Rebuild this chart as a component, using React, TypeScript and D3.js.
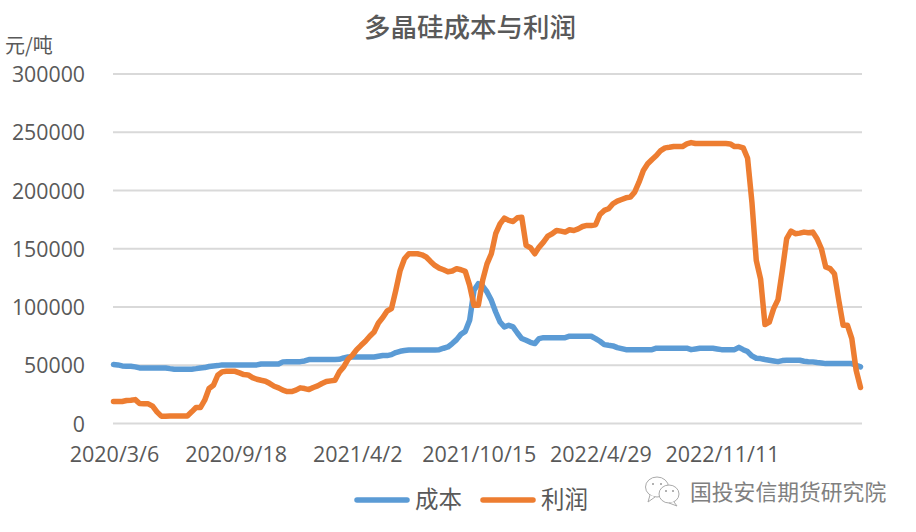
import React from "react";
import * as d3 from "d3";

const tickLabels = ["2020/3/6", "2020/9/18", "2021/4/2", "2021/10/15", "2022/4/29", "2022/11/11"];
const tickWeeks = [0, 28, 56, 84, 112, 140];
const yTicks = [0, 50000, 100000, 150000, 200000, 250000, 300000];
const seriesNames = ["成本", "利润"];

const cost = [
  50600, 50300, 49400, 49100, 49100, 48600, 47700, 47700, 47700, 47700, 47700, 47700, 47700, 47100, 46600, 46600, 46600, 46600, 46600, 47100,
  47700, 48000, 48900, 49400, 49700, 50300, 50300, 50300, 50300, 50300, 50300, 50300, 50300, 50300, 51100, 51100, 51100, 51100, 51100, 52900,
  53100, 53100, 53100, 53100, 53700, 54900, 54900, 54900, 54900, 54900, 54900, 54900, 55100, 56300, 57100, 57100, 57100, 57100, 57100, 57100,
  57100, 57700, 58300, 58300, 59100, 60900, 62000, 62600, 63100, 63100, 63100, 63100, 63100, 63100, 63100, 63400, 64600, 65700, 68600, 72000,
  76600, 79100, 88600, 114300, 120000, 118000, 112900, 105700, 95700, 87100, 82900, 84300, 82900, 77700, 72900, 71400, 69700, 68600, 72900, 73700,
  73700, 73700, 73700, 73700, 73700, 74900, 74900, 74900, 74900, 74900, 74900, 72900, 70600, 67700, 67100, 66600, 65100, 64300, 63400, 63400,
  63400, 63400, 63400, 63400, 63400, 64600, 64600, 64600, 64600, 64600, 64600, 64600, 64600, 63400, 64000, 64600, 64600, 64600, 64600, 64000,
  63400, 63400, 63400, 63400, 65400, 63400, 61700, 58000, 56000, 55700, 54900, 54300, 53700, 53100, 54000, 54300, 54300, 54300, 54300, 53400,
  53100, 52900, 52300, 52000, 51400, 51400, 51400, 51400, 51400, 51400, 51400, 50000, 48600,
];

const profit = [
  18900, 18900, 18900, 19700, 20000, 20500, 17100, 16900, 16900, 14900, 10000, 6300, 6300, 6500, 6500, 6500, 6500, 6500, 10000, 13700,
  13700, 20000, 30000, 32800, 41400, 44300, 44800, 44800, 44800, 43400, 42000, 41700, 39400, 38000, 37100, 36300, 34300, 32000, 30600, 28600,
  27400, 27400, 28600, 30600, 30000, 29100, 30900, 32300, 34300, 36000, 36600, 37100, 44300, 48600, 55100, 58600, 63400, 67100, 70600, 74900,
  78600, 86300, 90900, 96600, 98600, 114300, 131400, 141400, 145700, 145700, 145700, 144800, 142900, 139100, 135700, 133400, 132000, 130300, 130900, 132900,
  132000, 130600, 118600, 101400, 101400, 122900, 137000, 145700, 162900, 171400, 176300, 174300, 173400, 176600, 177100, 152900, 150900, 145700, 151400, 155700,
  160900, 162900, 165700, 165100, 164300, 166300, 165700, 167100, 169100, 170000, 170000, 170600, 179400, 182900, 184300, 188600, 190900, 192300, 193700, 194300,
  198600, 207100, 217100, 222900, 226600, 230000, 234300, 236600, 237100, 237700, 237700, 237700, 240000, 241100, 240300, 240300, 240300, 240300, 240300, 240300,
  240300, 240300, 240000, 237700, 237700, 236600, 227700, 190000, 140000, 124000, 84900, 87100, 98600, 106300, 131400, 158600, 165100, 162900, 163400, 164300,
  163700, 164300, 158600, 150000, 134300, 132900, 128600, 105700, 84300, 84300, 72900, 45700, 30900,
];

const W = 916;
const H = 532;
const x = d3.scaleLinear().domain([0, cost.length - 1]).range([113.5, 860.5]);
const y = d3.scaleLinear().domain([0, 300000]).range([423.5, 74]);
const line = d3.line<number>().x((_, i) => x(i)).y((d) => y(d)).curve(d3.curveLinear);

const textColor = "#595959";
const latin = "'Open Sans', 'Noto Sans CJK SC', sans-serif";
const cjk = "'Noto Sans CJK SC', sans-serif";
const colors = ["#5b9bd5", "#ed7d31"];

export default function App() {
  return (
    <svg width={W} height={H} viewBox={`0 0 ${W} ${H}`} style={{ position: "absolute", left: 0, top: 0, background: "#fff" }}>
      <text x={470} y={37} textAnchor="middle" fontFamily={cjk} fontSize={26.5} fontWeight={500} fill={textColor}>多晶硅成本与利润</text>
      <text x={5} y={53} fontFamily={cjk} fontSize={20} fill={textColor}>元/吨</text>
      {yTicks.map((t) => (
        <g key={t}>
          <line x1={113} x2={862} y1={y(t)} y2={y(t)} stroke="#d9d9d9" strokeWidth={2} />
          <text x={85} y={y(t) + 8} textAnchor="end" fontFamily={latin} fontSize={21.3} fill={textColor}>{t}</text>
        </g>
      ))}
      {tickWeeks.map((w, i) => (
        <text key={w} x={x(w) + 1} y={462} textAnchor="middle" fontFamily={latin} fontSize={21.5} fill={textColor}>{tickLabels[i]}</text>
      ))}
      {[cost, profit].map((s, i) => (
        <path key={i} d={line(s) ?? ""} fill="none" stroke={colors[i]} strokeWidth={5.5} strokeLinecap="round" strokeLinejoin="round" />
      ))}
      {seriesNames.map((n, i) => {
        const lx = 357 + i * 126;
        return (
          <g key={n}>
            <line x1={lx} x2={lx + 50} y1={500} y2={500} stroke={colors[i]} strokeWidth={5.5} strokeLinecap="round" />
            <text x={lx + 58} y={508} fontFamily={cjk} fontSize={23.5} fill={textColor}>{n}</text>
          </g>
        );
      })}
      <g fill="#fff" stroke="#aaa" strokeWidth={1}>
        <ellipse cx={657} cy={487} rx={11.5} ry={10} />
        <path d="M650 495 L648 502 L655 497" />
        <ellipse cx={669} cy={494} rx={10} ry={9} />
        <path d="M674 502 L677 506 L669 503" />
      </g>
      <g fill="#999">
        <circle cx={653} cy={484} r={1} /><circle cx={661} cy={484} r={1} />
        <circle cx={666} cy={491} r={1} /><circle cx={673} cy={491} r={1} />
      </g>
      <text x={690} y={500} fontFamily={cjk} fontSize={21.8} fill="#808080">国投安信期货研究院</text>
    </svg>
  );
}
